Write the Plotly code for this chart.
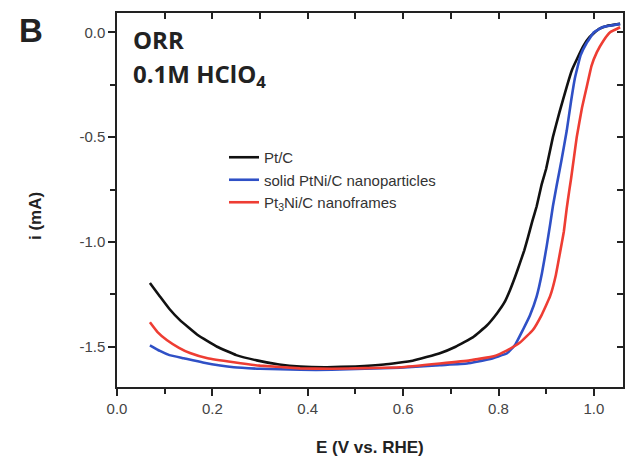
import plotly.graph_objects as go

# ---- data ----
E_ptc = [0.069, 0.09, 0.11, 0.132, 0.17, 0.21, 0.25, 0.293, 0.34, 0.384, 0.44, 0.50,
         0.56, 0.62, 0.677, 0.71, 0.746, 0.775, 0.797, 0.812, 0.824, 0.835, 0.845, 0.854,
         0.862, 0.871, 0.88, 0.89, 0.90, 0.914, 0.928, 0.943, 0.954, 0.964, 0.978, 0.992,
         1.01, 1.027, 1.055]
i_ptc = [-1.196, -1.26, -1.32, -1.373, -1.445, -1.50, -1.54, -1.565, -1.585, -1.595, -1.598,
         -1.594, -1.585, -1.567, -1.531, -1.50, -1.455, -1.40, -1.34, -1.29, -1.23, -1.165,
         -1.10, -1.04, -0.976, -0.90, -0.83, -0.73, -0.65, -0.50, -0.38, -0.26, -0.18, -0.13,
         -0.065, -0.02, 0.015, 0.03, 0.04]

E_solid = [0.069, 0.09, 0.11, 0.14, 0.18, 0.245, 0.30, 0.384, 0.45, 0.52, 0.593, 0.677,
           0.734, 0.78, 0.818, 0.835, 0.851, 0.866, 0.88, 0.891, 0.901, 0.908, 0.914, 0.922,
           0.932, 0.943, 0.952, 0.96, 0.972, 0.985, 1.0, 1.019, 1.055]
i_solid = [-1.493, -1.52, -1.54, -1.555, -1.575, -1.598, -1.605, -1.61, -1.61, -1.605, -1.60,
           -1.588, -1.58, -1.56, -1.531, -1.49, -1.42, -1.35, -1.26, -1.15, -1.02, -0.92,
           -0.83, -0.73, -0.61, -0.47, -0.33, -0.22, -0.11, -0.05, 0.0, 0.025, 0.04]

E_frame = [0.069, 0.085, 0.105, 0.13, 0.153, 0.19, 0.245, 0.30, 0.384, 0.45, 0.52, 0.593,
           0.677, 0.74, 0.79, 0.818, 0.845, 0.872, 0.89, 0.908, 0.92, 0.929, 0.937, 0.943,
           0.948, 0.952, 0.958, 0.964, 0.975, 0.985, 0.995, 1.006, 1.02, 1.034, 1.055]
i_frame = [-1.383, -1.43, -1.469, -1.505, -1.53, -1.555, -1.574, -1.59, -1.603, -1.605, -1.602,
           -1.598, -1.58, -1.565, -1.545, -1.517, -1.48, -1.42, -1.35, -1.26, -1.16, -1.05,
           -0.95, -0.84, -0.76, -0.70, -0.60, -0.50, -0.36, -0.26, -0.16, -0.096, -0.04, 0.0,
           0.024]

series_names = ["Pt/C", "solid PtNi/C nanoparticles", "Pt<sub>3</sub>Ni/C nanoframes"]
series_colors = ["#111111", "#2f50c6", "#ee3d33"]

x_tickvals = [0.0, 0.2, 0.4, 0.6, 0.8, 1.0]
x_ticktext = ["0.0", "0.2", "0.4", "0.6", "0.8", "1.0"]
y_tickvals = [0.0, -0.5, -1.0, -1.5]
y_ticktext = ["0.0", "-0.5", "-1.0", "-1.5"]

X_RANGE = [0.0, 1.061]
Y_RANGE = [-1.692, 0.092]

W, H = 635, 469
L, R, T, B = 117, 12, 13, 82
pw, ph = W - L - R, H - T - B

fig = go.Figure()
for E, cur, name, col in zip([E_ptc, E_solid, E_frame], [i_ptc, i_solid, i_frame],
                             series_names, series_colors):
    fig.add_trace(go.Scatter(x=E, y=cur, mode="lines", name=name,
                             line=dict(color=col, width=2.6, shape="spline", smoothing=0.3)))

# invisible copies so that the mirrored (inside-tick) top/right axes are drawn
fig.add_trace(go.Scatter(x=E_ptc, y=i_ptc, xaxis="x2", yaxis="y", mode="lines",
                         line=dict(width=0), opacity=0, showlegend=False, hoverinfo="skip"))
fig.add_trace(go.Scatter(x=E_ptc, y=i_ptc, xaxis="x", yaxis="y2", mode="lines",
                         line=dict(width=0), opacity=0, showlegend=False, hoverinfo="skip"))

tickfont = dict(family="Liberation Sans, Arial, sans-serif", size=15, color="#444444")
axcol = "#222222"

fig.update_layout(
    width=W, height=H,
    margin=dict(l=L, r=R, t=T, b=B),
    paper_bgcolor="white", plot_bgcolor="white",
    showlegend=True,
    legend=dict(x=(224 - L) / pw, y=1 - (141 - T) / ph, xanchor="left", yanchor="top",
                bgcolor="rgba(0,0,0,0)", borderwidth=0, tracegroupgap=0,
                font=dict(family="Liberation Sans, Arial, sans-serif", size=15, color="#333333")),
    xaxis=dict(range=X_RANGE, tickvals=x_tickvals, ticktext=x_ticktext, ticks="outside",
               ticklen=7, tickwidth=1.5, tickcolor=axcol, showgrid=False, zeroline=False,
               showline=True, linecolor=axcol, linewidth=1.5, tickfont=tickfont,
               minor=dict(dtick=0.1, tick0=0, ticks="outside", ticklen=5, tickwidth=1.5,
                          tickcolor=axcol, showgrid=False)),
    yaxis=dict(range=Y_RANGE, tickvals=y_tickvals, ticktext=y_ticktext, ticks="outside",
               ticklen=7, tickwidth=1.5, tickcolor=axcol, showgrid=False, zeroline=False,
               showline=True, linecolor=axcol, linewidth=1.5, tickfont=tickfont,
               minor=dict(dtick=0.25, tick0=0, ticks="outside", ticklen=5, tickwidth=1.5,
                          tickcolor=axcol, showgrid=False)),
    xaxis2=dict(range=X_RANGE, overlaying="x", side="top", anchor="y", dtick=0.1, tick0=0,
                ticks="inside", ticklen=6, tickwidth=1.5, tickcolor=axcol,
                showticklabels=False, showgrid=False, zeroline=False,
                showline=True, linecolor=axcol, linewidth=1.5),
    yaxis2=dict(range=Y_RANGE, overlaying="y", side="right", anchor="x", dtick=0.25, tick0=0,
                ticks="inside", ticklen=6, tickwidth=1.5, tickcolor=axcol,
                showticklabels=False, showgrid=False, zeroline=False,
                showline=True, linecolor=axcol, linewidth=1.5),
)

# text labels: (text, pixel x, pixel y, size, family, xanchor, angle)
labels = [
    ("<b>E (V vs. RHE)</b>", (L + W - R) / 2, 447, 17, "Liberation Sans, Arial, sans-serif", "center", 0),
    ("<b>i (mA)</b>", 36, 216, 17, "Liberation Sans, Arial, sans-serif", "center", -90),
    ("<b>B</b>", 31, 31, 33, "Liberation Sans, Arial, sans-serif", "center", 0),
    ("<b>ORR</b>", 131, 40, 24, "Open Sans, Lato, sans-serif", "left", 0),
    ("<b>0.1M HClO<sub>4</sub></b>", 131, 75, 24, "Open Sans, Lato, sans-serif", "left", 0),
]
for text, px, py, size, fam, xa, ang in labels:
    fig.add_annotation(text=text, x=(px - L) / pw, y=1 - (py - T) / ph,
                       xref="paper", yref="paper", xanchor=xa, yanchor="middle",
                       showarrow=False, textangle=ang,
                       font=dict(family=fam, size=size, color="#222222"))

fig.write_html("out.html", config={"displayModeBar": False})

# remove the browser's default body margin so the figure sits at (0, 0)
with open("out.html", "r", encoding="utf-8") as f:
    html = f.read()
html = html.replace("<head>", "<head><style>html,body{margin:0;padding:0;}</style>", 1)
with open("out.html", "w", encoding="utf-8") as f:
    f.write(html)
